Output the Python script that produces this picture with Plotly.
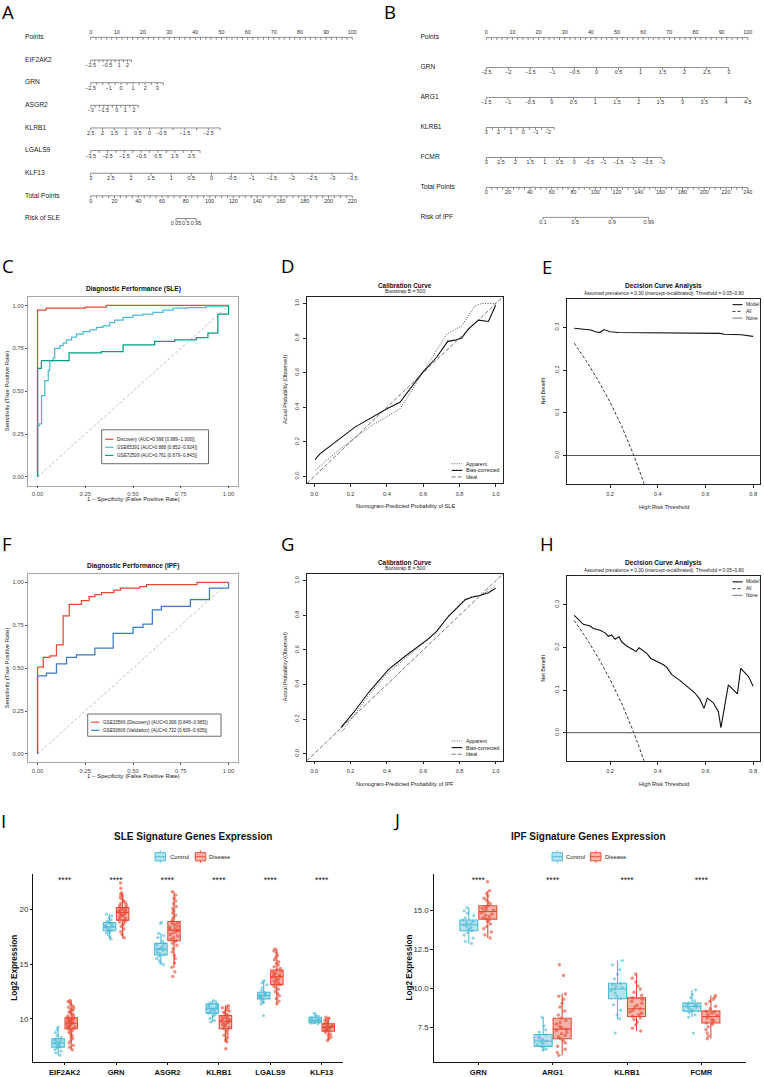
import plotly.graph_objects as go

W, H = 764, 1077
SANS = "Liberation Sans, Arial, Helvetica, sans-serif"
LETTER = "Open Sans, Liberation Sans, sans-serif"

# ======================= DATA =======================
# ---- A: SLE nomogram (scale values, labels, points reached at last value) ----
A_POINT_LABELS = ["0", "10", "20", "30", "40", "50", "60", "70", "80", "90", "100"]
A_EIF2AK2_VALUES = [-2.5, -2, -1.5, -1, -0.5, 0, 0.5, 1, 1.5, 2, 2.5]
A_EIF2AK2_LABELS = ["−2.5", "", "", "", "−0.5", "", "", "1", "", "2", ""]
A_EIF2AK2_MAXPTS = 15.6
A_GRN_VALUES = [-2.5, -2, -1.5, -1, -0.5, 0, 0.5, 1, 1.5, 2, 2.5, 3, 3.5]
A_GRN_LABELS = ["−2.5", "", "", "−1", "", "0", "", "1", "", "2", "", "3", ""]
A_GRN_MAXPTS = 27.75
A_ASGR2_VALUES = [-3, -2.5, -2, -1.5, -1, -0.5, 0, 0.5, 1, 1.5, 2, 2.5]
A_ASGR2_LABELS = ["−3", "", "", "−1.5", "", "", "0", "", "1", "", "2", ""]
A_ASGR2_MAXPTS = 18.2
A_KLRB1_VALUES = [2.5, 2, 1.5, 1, 0.5, 0, -0.5, -1, -1.5, -2, -2.5, -3]
A_KLRB1_LABELS = ["2.5", "2", "1.5", "1", "0.5", "0", "−0.5", "", "−1.5", "", "−2.5", ""]
A_KLRB1_MAXPTS = 49.5
A_LGALS9_VALUES = [-3.5, -3, -2.5, -2, -1.5, -1, -0.5, 0, 0.5, 1, 1.5, 2, 2.5, 3]
A_LGALS9_LABELS = ["−3.5", "", "−2.5", "", "−1.5", "", "−0.5", "", "0.5", "", "1.5", "", "2.5", ""]
A_LGALS9_MAXPTS = 41.8
A_KLF13_VALUES = [3, 2.5, 2, 1.5, 1, 0.5, 0, -0.5, -1, -1.5, -2, -2.5, -3, -3.5]
A_KLF13_LABELS = ["3", "2.5", "2", "1.5", "1", "0.5", "0", "−0.5", "−1", "−1.5", "−2", "−2.5", "−3", "−3.5"]
A_KLF13_MAXPTS = 100
A_TOTAL_MAX = 220
A_TOTAL_LABELS = ["0", "20", "40", "60", "80", "100", "120", "140", "160", "180", "200", "220"]
A_RISK_LABELS = ["0.05", "0.5", "0.95"]
A_RISK_TOTALPTS = [71.7, 80.0, 88.6]

# ---- B: IPF nomogram ----
B_POINT_LABELS = ["0", "10", "20", "30", "40", "50", "60", "70", "80", "90", "100"]
B_GRN_VALUES = [-2.5, -2, -1.5, -1, -0.5, 0, 0.5, 1, 1.5, 2, 2.5, 3]
B_GRN_LABELS = ["−2.5", "−2", "−1.5", "−1", "−0.5", "0", "0.5", "1", "1.5", "2", "2.5", "3"]
B_GRN_MAXPTS = 92.7
B_ARG1_VALUES = [-1.5, -1, -0.5, 0, 0.5, 1, 1.5, 2, 2.5, 3, 3.5, 4, 4.5]
B_ARG1_LABELS = ["−1.5", "−1", "−0.5", "0", "0.5", "1", "1.5", "2", "2.5", "3", "3.5", "4", "4.5"]
B_ARG1_MAXPTS = 100
B_KLRB1_VALUES = [3, 2.5, 2, 1.5, 1, 0.5, 0, -0.5, -1, -1.5, -2, -2.5]
B_KLRB1_LABELS = ["3", "", "2", "", "1", "", "0", "", "−1", "", "−2", ""]
B_KLRB1_MAXPTS = 25.9
B_FCMR_VALUES = [3, 2.5, 2, 1.5, 1, 0.5, 0, -0.5, -1, -1.5, -2, -2.5, -3]
B_FCMR_LABELS = ["3", "2.5", "2", "1.5", "1", "0.5", "0", "−0.5", "−1", "−1.5", "−2", "−2.5", "−3"]
B_FCMR_MAXPTS = 67.2
B_TOTAL_MAX = 240
B_TOTAL_LABELS = ["0", "20", "40", "60", "80", "100", "120", "140", "160", "180", "200", "220", "240"]
B_RISK_LABELS = ["0.1", "0.5", "0.9", "0.99"]
B_RISK_TOTALPTS = [52.0, 81.7, 115.4, 149.1]

# ---- C: ROC SLE (step corners) ----
C_DISC_FPR = [0, 0, 0.045, 0.25, 0.36, 1.0]
C_DISC_TPR = [0, 0.973, 0.985, 0.99, 1.0, 1.0]
C_G65_FPR = [0, 0, 0.009, 0.021, 0.038, 0.056, 0.064, 0.082, 0.09, 0.117, 0.134, 0.152, 0.178, 0.204,
             0.239, 0.274, 0.308, 0.343, 0.378, 0.404, 0.448, 0.5, 0.552, 0.605, 0.657, 0.709, 0.779, 0.883, 1.0]
C_G65_TPR = [0, 0.30, 0.31, 0.474, 0.561, 0.62, 0.678, 0.694, 0.75, 0.766, 0.78, 0.799, 0.815, 0.833,
             0.847, 0.858, 0.872, 0.881, 0.9, 0.914, 0.93, 0.943, 0.949, 0.959, 0.973, 0.984, 0.988, 0.996, 1.0]
C_G72_FPR = [0, 0, 0.02, 0.165, 0.334, 0.448, 0.613, 0.718, 0.831, 0.892, 0.944, 1.0]
C_G72_TPR = [0, 0.633, 0.678, 0.723, 0.731, 0.77, 0.79, 0.799, 0.812, 0.839, 0.949, 1.0]
C_LEGEND = ["Discovery (AUC=0.996 [0.989−1.000])", "GSE65391 (AUC=0.888 [0.852−0.924])",
            "GSE72509 (AUC=0.761 [0.679−0.843])"]

# ---- F: ROC IPF ----
F_DISC_FPR = [0, 0, 0.03, 0.065, 0.099, 0.134, 0.166, 0.23, 0.27, 0.3, 0.335, 0.4, 0.434, 0.535, 0.57, 0.835, 1.0]
F_DISC_TPR = [0, 0.506, 0.562, 0.572, 0.636, 0.805, 0.872, 0.893, 0.917, 0.928, 0.94, 0.955, 0.967, 0.975, 0.987, 1.0, 1.0]
F_VAL_FPR = [0, 0, 0.047, 0.099, 0.152, 0.204, 0.3, 0.396, 0.5, 0.552, 0.601, 0.648, 0.8, 0.9, 1.0]
F_VAL_TPR = [0, 0.455, 0.471, 0.525, 0.562, 0.578, 0.616, 0.703, 0.737, 0.756, 0.84, 0.86, 0.899, 0.966, 1.0]
F_LEGEND = ["GSE33566 (Discovery) (AUC=0.906 [0.846−0.965])", "GSE93606 (Validation) (AUC=0.722 [0.609−0.835])"]
ROC_DIAG = [0, 1]

# ---- D: calibration SLE ----
D_BIAS_X = [0.004, 0.031, 0.224, 0.408, 0.472, 0.537, 0.592, 0.674, 0.735, 0.775, 0.812, 0.848, 0.904, 0.959, 0.999]
D_BIAS_Y = [0.097, 0.131, 0.285, 0.396, 0.429, 0.516, 0.596, 0.689, 0.781, 0.788, 0.80, 0.852, 0.904, 0.896, 0.99]
D_APP_X = [0.004, 0.132, 0.316, 0.472, 0.537, 0.592, 0.665, 0.729, 0.812, 0.885, 0.922, 1.0]
D_APP_Y = [0.035, 0.15, 0.295, 0.391, 0.497, 0.59, 0.708, 0.823, 0.871, 0.986, 1.0, 1.0]
IDEAL = [-0.04, 1.04]

# ---- G: calibration IPF ----
G_BIAS_X = [0.147, 0.219, 0.298, 0.408, 0.5, 0.574, 0.628, 0.674, 0.738, 0.785, 0.83, 0.867, 0.913, 0.959, 0.999]
G_BIAS_Y = [0.151, 0.241, 0.352, 0.486, 0.563, 0.621, 0.664, 0.707, 0.793, 0.841, 0.889, 0.904, 0.914, 0.931, 0.956]
G_APP_X = [0.155, 0.219, 0.298, 0.408, 0.5, 0.574, 0.628, 0.674, 0.738, 0.785, 0.83, 0.867, 0.913, 0.959, 0.999]
G_APP_Y = [0.13, 0.225, 0.335, 0.47, 0.552, 0.615, 0.66, 0.705, 0.795, 0.845, 0.893, 0.908, 0.916, 0.942, 0.972]

# ---- E / H: decision curves ----
E_THR = [0.05, 0.09, 0.12, 0.138, 0.158, 0.174, 0.2, 0.235, 0.35, 0.5, 0.66, 0.68, 0.75, 0.8]
E_MODEL = [0.298, 0.296, 0.294, 0.290, 0.288, 0.295, 0.290, 0.288, 0.287, 0.286, 0.286, 0.284, 0.283, 0.279]
ALL_THR = [0.05, 0.1, 0.15, 0.2, 0.25, 0.3, 0.35]
ALL_NB = [0.263, 0.222, 0.176, 0.125, 0.067, 0.0, -0.077]
H_THR = [0.05, 0.06, 0.088, 0.116, 0.13, 0.158, 0.179, 0.193, 0.207, 0.221, 0.238, 0.249, 0.27, 0.298,
         0.309, 0.322, 0.34, 0.354, 0.371, 0.396, 0.424, 0.438, 0.459, 0.494, 0.521, 0.556, 0.577, 0.594,
         0.608, 0.633, 0.654, 0.665, 0.696, 0.734, 0.748, 0.78, 0.8]
H_MODEL = [0.275, 0.27, 0.254, 0.25, 0.244, 0.24, 0.234, 0.226, 0.229, 0.219, 0.225, 0.213, 0.203, 0.194,
           0.19, 0.199, 0.192, 0.186, 0.174, 0.167, 0.159, 0.153, 0.136, 0.122, 0.109, 0.093, 0.078, 0.057,
           0.081, 0.07, 0.05, 0.012, 0.112, 0.091, 0.151, 0.132, 0.109]

# ---- I: SLE expression ----
I_GENES = ["EIF2AK2", "GRN", "ASGR2", "KLRB1", "LGALS9", "KLF13"]
I_CTRL_Q1 = [7.42, 18.03, 15.82, 10.52, 11.82, 9.64]
I_CTRL_MED = [7.79, 18.39, 16.36, 10.91, 12.12, 9.85]
I_CTRL_Q3 = [8.18, 18.79, 16.88, 11.36, 12.42, 10.15]
I_CTRL_LO = [6.67, 17.27, 14.94, 9.7, 11.36, 9.55]
I_CTRL_HI = [9.24, 19.55, 17.8, 11.67, 13.48, 10.5]
I_DIS_Q1 = [9.09, 19.0, 17.12, 9.09, 13.12, 8.88]
I_DIS_MED = [9.6, 19.7, 18.09, 9.79, 13.85, 9.24]
I_DIS_Q3 = [10.09, 20.15, 18.88, 10.3, 14.45, 9.55]
I_DIS_LO = [7.18, 17.4, 14.7, 7.88, 11.36, 8.03]
I_DIS_HI = [11.67, 21.5, 21.6, 11.2, 16.36, 10.15]
I_SIG_Y = 22.58
I_CTRL_EIF2AK2 = [6.67, 6.9, 7.05, 7.2, 7.35, 7.42, 7.5, 7.6, 7.7, 7.79, 7.85, 7.95, 8.05, 8.12, 8.18, 8.3, 8.5, 8.75, 9.0, 9.24]
I_CTRL_GRN = [17.27, 17.5, 17.7, 17.85, 17.95, 18.03, 18.1, 18.2, 18.3, 18.39, 18.45, 18.55, 18.65, 18.72, 18.79, 18.9, 19.05, 19.2, 19.4, 19.55]
I_CTRL_ASGR2 = [14.94, 15.1, 15.3, 15.5, 15.7, 15.82, 15.95, 16.1, 16.25, 16.36, 16.45, 16.6, 16.75, 16.88, 17.1, 17.4, 17.6, 17.8, 18.7, 18.8]
I_CTRL_KLRB1 = [9.7, 9.85, 10.05, 10.25, 10.4, 10.52, 10.6, 10.7, 10.8, 10.91, 10.98, 11.05, 11.15, 11.25, 11.36, 11.45, 11.55, 11.67]
I_CTRL_LGALS9 = [10.3, 11.36, 11.5, 11.65, 11.82, 11.9, 12.0, 12.08, 12.12, 12.2, 12.28, 12.35, 12.42, 12.6, 12.85, 13.1, 13.3, 13.48]
I_CTRL_KLF13 = [9.55, 9.6, 9.64, 9.7, 9.75, 9.8, 9.85, 9.9, 9.95, 10.0, 10.08, 10.15, 10.25, 10.35, 10.5]
I_DIS_EIF2AK2 = [7.18, 7.4, 7.6, 7.8, 8.0, 8.2, 8.35, 8.5, 8.65, 8.8, 8.9, 9.0, 9.09, 9.15, 9.2, 9.28, 9.35, 9.42, 9.48,
                 9.55, 9.6, 9.65, 9.7, 9.76, 9.82, 9.88, 9.94, 10.0, 10.05, 10.09, 10.15, 10.25, 10.35, 10.45, 10.55,
                 10.65, 10.75, 10.85, 10.95, 11.05, 11.15, 11.3, 11.45, 11.58, 11.67]
I_DIS_GRN = [17.4, 17.7, 17.95, 18.2, 18.4, 18.55, 18.7, 18.8, 18.9, 19.0, 19.1, 19.2, 19.3, 19.38, 19.45, 19.52, 19.6,
             19.65, 19.7, 19.75, 19.8, 19.86, 19.92, 19.98, 20.05, 20.1, 20.15, 20.25, 20.35, 20.45, 20.55, 20.65,
             20.75, 20.9, 21.05, 21.2, 21.35, 21.5, 21.9, 22.4]
I_DIS_ASGR2 = [13.85, 14.3, 14.7, 15.1, 15.5, 15.8, 16.1, 16.4, 16.7, 16.9, 17.05, 17.12, 17.25, 17.4, 17.55, 17.7, 17.85,
               17.95, 18.05, 18.09, 18.15, 18.25, 18.35, 18.45, 18.55, 18.65, 18.75, 18.88, 19.05, 19.25, 19.45, 19.65,
               19.85, 20.05, 20.25, 20.5, 20.75, 21.0, 21.3, 21.6]
I_DIS_KLRB1 = [7.27, 7.88, 8.05, 8.2, 8.35, 8.5, 8.65, 8.8, 8.95, 9.09, 9.2, 9.3, 9.4, 9.5, 9.58, 9.65, 9.72, 9.79, 9.85,
               9.92, 9.98, 10.05, 10.12, 10.2, 10.3, 10.4, 10.5, 10.6, 10.7, 10.8, 10.9, 11.0, 11.1, 11.2]
I_DIS_LGALS9 = [11.36, 11.6, 11.85, 12.1, 12.3, 12.5, 12.7, 12.85, 13.0, 13.12, 13.22, 13.32, 13.42, 13.52, 13.62, 13.72,
                13.8, 13.85, 13.92, 14.0, 14.08, 14.16, 14.25, 14.35, 14.45, 14.6, 14.75, 14.9, 15.05, 15.2, 15.4, 15.6,
                15.8, 16.0, 16.2, 16.36]
I_DIS_KLF13 = [8.03, 8.2, 8.35, 8.5, 8.62, 8.75, 8.88, 8.95, 9.02, 9.08, 9.14, 9.2, 9.24, 9.3, 9.36, 9.42, 9.48, 9.55,
               9.65, 9.75, 9.85, 9.95, 10.05, 10.15]

# ---- J: IPF expression ----
J_GENES = ["GRN", "ARG1", "KLRB1", "FCMR"]
J_CTRL_Q1 = [13.68, 6.29, 9.33, 8.54]
J_CTRL_MED = [14.06, 6.63, 9.96, 8.84]
J_CTRL_Q3 = [14.36, 7.05, 10.32, 9.05]
J_CTRL_LO = [12.87, 6.04, 8.05, 8.16]
J_CTRL_HI = [15.16, 8.16, 11.77, 9.9]
J_DIS_Q1 = [14.42, 6.78, 8.2, 7.78]
J_DIS_MED = [14.91, 7.39, 8.69, 8.2]
J_DIS_Q3 = [15.27, 8.09, 9.39, 8.54]
J_DIS_LO = [13.21, 5.72, 7.27, 6.78]
J_DIS_HI = [16.23, 9.64, 10.92, 9.54]
J_SIG_Y = 16.86
J_CTRL_GRN = [12.87, 13.0, 13.2, 13.4, 13.55, 13.68, 13.78, 13.88, 13.96, 14.06, 14.12, 14.2, 14.28, 14.36, 14.5, 14.65, 14.8, 14.95, 15.16]
J_CTRL_ARG1 = [6.04, 6.1, 6.18, 6.29, 6.38, 6.47, 6.55, 6.63, 6.72, 6.82, 6.92, 7.05, 7.2, 7.35, 7.6, 8.16]
J_CTRL_KLRB1 = [7.14, 8.05, 8.3, 8.6, 8.95, 9.33, 9.5, 9.7, 9.85, 9.96, 10.05, 10.15, 10.25, 10.32, 10.6, 10.9, 11.2, 11.5, 11.77]
J_CTRL_FCMR = [7.14, 8.16, 8.3, 8.45, 8.54, 8.62, 8.7, 8.78, 8.84, 8.9, 8.96, 9.0, 9.05, 9.2, 9.4, 9.6, 9.9]
J_DIS_GRN = [13.21, 13.4, 13.6, 13.8, 13.95, 14.1, 14.25, 14.35, 14.42, 14.5, 14.58, 14.66, 14.74, 14.82, 14.91, 14.98,
             15.05, 15.12, 15.2, 15.27, 15.38, 15.5, 15.62, 15.75, 15.9, 16.05, 16.23, 16.8]
J_DIS_ARG1 = [5.72, 5.9, 6.1, 6.3, 6.5, 6.65, 6.78, 6.9, 7.0, 7.1, 7.2, 7.3, 7.39, 7.48, 7.58, 7.7, 7.82, 7.95, 8.09,
              8.3, 8.55, 8.8, 9.05, 9.3, 9.5, 9.64, 10.81, 11.51]
J_DIS_KLRB1 = [7.27, 7.45, 7.65, 7.85, 8.0, 8.1, 8.2, 8.3, 8.4, 8.5, 8.6, 8.69, 8.8, 8.92, 9.05, 9.18, 9.3, 9.39, 9.55,
               9.75, 9.95, 10.15, 10.4, 10.65, 10.92]
J_DIS_FCMR = [6.78, 6.95, 7.15, 7.35, 7.55, 7.7, 7.78, 7.86, 7.94, 8.02, 8.1, 8.2, 8.27, 8.34, 8.41, 8.48, 8.54, 8.7,
              8.85, 9.0, 9.15, 9.3, 9.42, 9.54]

RED = "#E64B35"
LBLUE = "#4DBBD5"
TEAL = "#00A087"
BLUE = "#3C7BC4"

# ======================= BUILD =======================
fig = go.Figure()
layout = {}
annotations = []
shapes = []


def fx(px):
    return px / W


def fy(py):
    return 1 - py / H


def axes(n, x0, x1, y0, y1, xrange, yrange, xextra=None, yextra=None):
    s = "" if n == 1 else str(n)
    xa = dict(domain=[fx(x0), fx(x1)], range=xrange, anchor="y" + s, showgrid=False, zeroline=False)
    ya = dict(domain=[fy(y1), fy(y0)], range=yrange, anchor="x" + s, showgrid=False, zeroline=False)
    xa.update(xextra or {})
    ya.update(yextra or {})
    layout["xaxis" + s] = xa
    layout["yaxis" + s] = ya
    return "x" + s, "y" + s


def text(x, y, s, size, color="#222", bold=False, xanchor="center", angle=0, family=SANS):
    annotations.append(dict(x=fx(x), y=fy(y), xref="paper", yref="paper",
                            text=f"<b>{s}</b>" if bold else s, showarrow=False,
                            font=dict(size=size, color=color, family=family),
                            xanchor=xanchor, yanchor="middle", textangle=angle, borderpad=0))


def seg(x0, y0, x1, y1, color, width, dash="solid"):
    shapes.append(dict(type="line", xref="paper", yref="paper", x0=fx(x0), y0=fy(y0), x1=fx(x1), y1=fy(y1),
                       line=dict(color=color, width=width, dash=dash)))


def rect(x0, y0, x1, y1, line_color, width, fill="rgba(0,0,0,0)"):
    shapes.append(dict(type="rect", xref="paper", yref="paper", x0=fx(x0), y0=fy(y0), x1=fx(x1), y1=fy(y1),
                       line=dict(color=line_color, width=width), fillcolor=fill))


# ---------------- nomograms ----------------
def scale_points(values, maxpts):
    v0, v1 = values[0], values[-1]
    return [(v - v0) / (v1 - v0) * maxpts for v in values]


def nomo_row(xr, yr, row, pts, labels, tick_len, lab_dy):
    n = len(pts)
    fig.add_trace(go.Scatter(x=pts, y=[row] * n, mode="lines", xaxis=xr, yaxis=yr,
                             line=dict(color="#444", width=0.6),
                             error_y=dict(type="data", symmetric=False, array=[tick_len] * n,
                                          arrayminus=[0] * n, width=0, thickness=0.6, color="#444"),
                             hoverinfo="skip", showlegend=False))
    lp = [p for p, l in zip(pts, labels) if l]
    lt = [l for l in labels if l]
    fig.add_trace(go.Scatter(x=lp, y=[row + lab_dy] * len(lp), mode="text", text=lt,
                             textposition="middle center", cliponaxis=False,
                             textfont=dict(size=5.4, color="#333", family=SANS),
                             xaxis=xr, yaxis=yr, hoverinfo="skip", showlegend=False))


def nomogram(n, dom, rng_x, rng_y, name_x, tick_len, lab_dy, pts_lab_dy, point_labels, var_rows,
             total_max, total_labels, risk_name, risk_labels, risk_total):
    hid = dict(visible=False)
    xr, yr = axes(n, dom[0], dom[1], dom[2], dom[3], rng_x, rng_y, hid, hid)
    names = ["Points"] + [r[0] for r in var_rows] + ["Total Points", risk_name]
    pticks = list(range(0, 101, 2))
    plabels = [point_labels[v // 10] if v % 10 == 0 else "" for v in pticks]
    nomo_row(xr, yr, 0, pticks, plabels, tick_len, pts_lab_dy)
    for i, (nm, vals, labs, mx) in enumerate(var_rows):
        nomo_row(xr, yr, i + 1, scale_points(vals, mx), labs, tick_len, lab_dy)
    trow = len(var_rows) + 1
    tvals = list(range(0, total_max + 1, 5))
    tpts = [v * 100 / total_max for v in tvals]
    tlabs = [total_labels[v // 20] if v % 20 == 0 else "" for v in tvals]
    nomo_row(xr, yr, trow, tpts, tlabs, tick_len, lab_dy)
    rpts = [v * 100 / total_max for v in risk_total]
    nomo_row(xr, yr, trow + 1, rpts, risk_labels, tick_len, lab_dy)
    fig.add_trace(go.Scatter(x=[name_x] * len(names), y=list(range(len(names))), mode="text", text=names,
                             textposition="middle right", cliponaxis=False,
                             textfont=dict(size=6.7, color="#222", family=SANS),
                             xaxis=xr, yaxis=yr, hoverinfo="skip", showlegend=False))


A_ROWS = [("EIF2AK2", A_EIF2AK2_VALUES, A_EIF2AK2_LABELS, A_EIF2AK2_MAXPTS),
          ("GRN", A_GRN_VALUES, A_GRN_LABELS, A_GRN_MAXPTS),
          ("ASGR2", A_ASGR2_VALUES, A_ASGR2_LABELS, A_ASGR2_MAXPTS),
          ("KLRB1", A_KLRB1_VALUES, A_KLRB1_LABELS, A_KLRB1_MAXPTS),
          ("LGALS9", A_LGALS9_VALUES, A_LGALS9_LABELS, A_LGALS9_MAXPTS),
          ("KLF13", A_KLF13_VALUES, A_KLF13_LABELS, A_KLF13_MAXPTS)]
nomogram(1, (15, 375, 20, 235), [-28.94, 108.68], [8.70, -0.771], -25.1, 0.11, 0.25, -0.2,
         A_POINT_LABELS, A_ROWS, A_TOTAL_MAX, A_TOTAL_LABELS, "Risk of SLE", A_RISK_LABELS, A_RISK_TOTALPTS)

B_ROWS = [("GRN", B_GRN_VALUES, B_GRN_LABELS, B_GRN_MAXPTS),
          ("ARG1", B_ARG1_VALUES, B_ARG1_LABELS, B_ARG1_MAXPTS),
          ("KLRB1", B_KLRB1_VALUES, B_KLRB1_LABELS, B_KLRB1_MAXPTS),
          ("FCMR", B_FCMR_VALUES, B_FCMR_LABELS, B_FCMR_MAXPTS)]
nomogram(2, (400, 764, 20, 235), [-33.0, 106.2], [6.566, -0.589], -25.2, 0.085, 0.185, -0.155,
         B_POINT_LABELS, B_ROWS, B_TOTAL_MAX, B_TOTAL_LABELS, "Risk of IPF", B_RISK_LABELS, B_RISK_TOTALPTS)


# ---------------- ROC panels (ggplot style) ----------------
def gg_axis(vals, txt):
    return dict(showline=True, mirror=True, linecolor="#A8A8A8", linewidth=0.9, ticks="outside", ticklen=2,
                tickwidth=0.6, tickcolor="#555", tickvals=vals, ticktext=txt,
                tickfont=dict(size=5.9, color="#4D4D4D", family=SANS))


roc_ticks = [0, 0.25, 0.5, 0.75, 1.0]
roc_text = ["0.00", "0.25", "0.50", "0.75", "1.00"]


def roc_panel(n, ytop, curves, legend_labels, title, leg_box, leg_rows):
    xr, yr = axes(n, 28, 238.1, ytop, ytop + 189.2, [-0.05, 1.05], [-0.05, 1.05],
                  gg_axis(roc_ticks, roc_text), gg_axis(roc_ticks, roc_text))
    fig.add_trace(go.Scatter(x=ROC_DIAG, y=ROC_DIAG, mode="lines", xaxis=xr, yaxis=yr,
                             line=dict(color="#9A9A9A", width=0.6, dash="3px,2px"), hoverinfo="skip"))
    for fpr, tpr, col in curves:
        fig.add_trace(go.Scatter(x=fpr, y=tpr, mode="lines", xaxis=xr, yaxis=yr,
                                 line=dict(color=col, width=1.25, shape="hv"), hoverinfo="skip"))
    cx = 133
    text(cx, ytop - 7.8, title, 6.6, "#111", bold=True)
    text(cx, ytop + 203, "1 − Specificity (False Positive Rate)", 5.9, "#222")
    text(7, ytop + 94.6, "Sensitivity (True Positive Rate)", 5.9, "#222", angle=-90)
    rect(*leg_box, "#444", 0.8, "white")
    cols = [c[2] for c in curves]
    lx0 = leg_box[0] + 3.5
    for (yy, lab, col) in zip(leg_rows, legend_labels, cols):
        seg(lx0, yy, lx0 + 8.3, yy, col, 1.2)
        text(lx0 + 10.5, yy, lab, 4.6, "#222", xanchor="left")


roc_panel(3, 297.7, [(C_DISC_FPR, C_DISC_TPR, RED), (C_G65_FPR, C_G65_TPR, LBLUE), (C_G72_FPR, C_G72_TPR, TEAL)],
          C_LEGEND, "Diagnostic Performance (SLE)", (101.7, 431, 208.5, 465), [440.5, 448.5, 456.7])
roc_panel(6, 575.4, [(F_DISC_FPR, F_DISC_TPR, RED), (F_VAL_FPR, F_VAL_TPR, BLUE)],
          F_LEGEND, "Diagnostic Performance (IPF)", (87.7, 716, 221, 738.3), [724.2, 732.3])


# ---------------- base R style panels ----------------
def r_axis(vals, txt, angle=0):
    return dict(showline=True, mirror=True, linecolor="#222", linewidth=0.8, ticks="outside", ticklen=3,
                tickwidth=0.7, tickcolor="#222", tickvals=vals, ticktext=txt, tickangle=angle,
                ticklabelstandoff=2, tickfont=dict(size=5.6, color="#333", family=SANS))


cal_ticks = [0, 0.2, 0.4, 0.6, 0.8, 1.0]
cal_text = ["0.0", "0.2", "0.4", "0.6", "0.8", "1.0"]


def legend_r(x_line0, x_line1, x_text, rows, labels, styles, size=5.2):
    for yy, lab, (col, wd, dash) in zip(rows, labels, styles):
        seg(x_line0, yy, x_line1, yy, col, wd, dash)
        text(x_text, yy, lab, size, "#222", xanchor="left")


def cal_panel(n, dy, ax_, ay_, bx_, by_, which):
    xr, yr = axes(n, 307.0, 503.1, 297.4 + dy, 484.7 + dy, [-0.04, 1.04], [-0.04, 1.04],
                  r_axis(cal_ticks, cal_text), r_axis(cal_ticks, cal_text, -90))
    fig.add_trace(go.Scatter(x=IDEAL, y=IDEAL, mode="lines", xaxis=xr, yaxis=yr,
                             line=dict(color="#555", width=0.8, dash="4px,2px"), hoverinfo="skip"))
    fig.add_trace(go.Scatter(x=ax_, y=ay_, mode="lines", xaxis=xr, yaxis=yr,
                             line=dict(color="#444", width=0.9, dash="1px,1.5px"), hoverinfo="skip"))
    fig.add_trace(go.Scatter(x=bx_, y=by_, mode="lines", xaxis=xr, yaxis=yr,
                             line=dict(color="#111", width=1.1), hoverinfo="skip"))
    text(405, 285.8 + dy, "Calibration Curve", 6.4, "#111", bold=True)
    text(405, 292.0 + dy, "Bootstrap B = 500", 5.0, "#222")
    text(405, 507.7 + dy, f"Nomogram-Predicted Probability of {which}", 5.6, "#222")
    text(285, 391 + dy, "Actual Probability (Observed)", 5.3, "#222", angle=-90)
    legend_r(451.7, 462.3, 465, [465 + dy, 471.7 + dy, 478.3 + dy], ["Apparent", "Bias-corrected", "Ideal"],
             [("#444", 0.9, "1px,1.5px"), ("#111", 1.1, "solid"), ("#555", 0.8, "4px,2px")])


cal_panel(4, 0, D_APP_X, D_APP_Y, D_BIAS_X, D_BIAS_Y, "SLE")
cal_panel(7, 278, G_APP_X, G_APP_Y, G_BIAS_X, G_BIAS_Y, "IPF")

dca_xt = [0.2, 0.4, 0.6, 0.8]
dca_xtext = ["0.2", "0.4", "0.6", "0.8"]
dca_yt = [0.0, 0.1, 0.2, 0.3]
dca_ytext = ["0.0", "0.1", "0.2", "0.3"]


def dca_panel(n, dy, thr, model):
    xr, yr = axes(n, 567.1, 760.3, 300.1 + dy, 485 + dy, [0.02, 0.83], [-0.066, 0.366],
                  r_axis(dca_xt, dca_xtext), r_axis(dca_yt, dca_ytext, -90))
    shapes.append(dict(type="line", xref=xr + " domain", yref=yr, x0=0, x1=1, y0=0, y1=0,
                       line=dict(color="#555", width=1.0)))
    fig.add_trace(go.Scatter(x=ALL_THR, y=ALL_NB, mode="lines", xaxis=xr, yaxis=yr, cliponaxis=True,
                             line=dict(color="#222", width=0.9, dash="3px,2px"), hoverinfo="skip"))
    fig.add_trace(go.Scatter(x=thr, y=model, mode="lines", xaxis=xr, yaxis=yr,
                             line=dict(color="#111", width=1.1), hoverinfo="skip"))
    text(663.7, 286.6 + dy, "Decision Curve Analysis", 6.6, "#111", bold=True)
    text(663.7, 294.0 + dy, "Assumed prevalence = 0.30 (intercept-recalibrated); Threshold = 0.05–0.80", 4.8, "#222")
    text(663.7, 508.3 + dy, "High Risk Threshold", 5.6, "#222")
    text(543, 392.5 + dy, "Net Benefit", 5.4, "#222", angle=-90)
    legend_r(732.5, 742.5, 744.5, [305.5 + dy, 312.3 + dy, 319 + dy], ["Model", "All", "None"],
             [("#111", 1.1, "solid"), ("#222", 0.9, "3px,2px"), ("#777", 1.0, "solid")], size=4.9)


dca_panel(5, 0, E_THR, E_MODEL)
dca_panel(8, 278, H_THR, H_MODEL)


# ---------------- expression box plots ----------------
def classic_axis(extra):
    d = dict(showline=True, linecolor="#111", linewidth=0.9, ticks="outside", ticklen=2.5, tickwidth=0.8,
             tickcolor="#111")
    d.update(extra)
    return d


def expr_panel(n, x0, x1, genes, xrange, yrange, ytv, ytt, ctrl_stats, dis_stats, ctrl_pts, dis_pts, sig_y,
               title, title_x, ytitle_x, leg):
    xr, yr = axes(n, x0, x1, 876, 1065, xrange, yrange,
                  classic_axis(dict(type="category", categoryorder="array", categoryarray=genes,
                                    tickfont=dict(size=7.6, color="#111", family=SANS, weight="bold"))),
                  classic_axis(dict(tickvals=ytv, ticktext=ytt,
                                    tickfont=dict(size=7.8, color="#333", family=SANS))))
    grp = "g" + str(n)
    for stats, col, fill, og, nm in [(ctrl_stats, LBLUE, "rgba(77,187,213,0.42)", "c", "Control"),
                                     (dis_stats, RED, "rgba(230,75,53,0.42)", "d", "Disease")]:
        q1, med, q3, lo, hi = stats
        fig.add_trace(go.Box(x=genes, q1=q1, median=med, q3=q3, lowerfence=lo, upperfence=hi, name=nm,
                             boxpoints=False, whiskerwidth=0, fillcolor=fill, line=dict(color=col, width=1.1),
                             offsetgroup=og, alignmentgroup=grp, xaxis=xr, yaxis=yr, hoverinfo="skip"))
    for pts, col, og, nm, sz in [(ctrl_pts, LBLUE, "c", "Control", 3.2), (dis_pts, RED, "d", "Disease", 3.5)]:
        xs, ys = [], []
        for g, v in zip(genes, pts):
            xs += [g] * len(v)
            ys += v
        fig.add_trace(go.Box(x=xs, y=ys, name=nm, boxpoints="all", jitter=0.75, pointpos=0, whiskerwidth=0,
                             fillcolor="rgba(0,0,0,0)", line=dict(color="rgba(0,0,0,0)", width=0),
                             marker=dict(color=col, size=sz, opacity=0.62, line=dict(width=0)),
                             offsetgroup=og, alignmentgroup=grp, xaxis=xr, yaxis=yr, hoverinfo="skip"))
    fig.add_trace(go.Scatter(x=genes, y=[sig_y] * len(genes), mode="text", text=["****"] * len(genes),
                             textfont=dict(size=8.5, color="#222", family=SANS), xaxis=xr, yaxis=yr,
                             hoverinfo="skip"))
    text(title_x, 839.2, title, 10, "#111", bold=True)
    text(ytitle_x, 970.5, "Log2 Expression", 8.2, "#111", bold=True, angle=-90)
    for (ix0, tx, lab, col, fill) in [(leg[0], leg[1], "Control", LBLUE, "rgba(77,187,213,0.42)"),
                                      (leg[2], leg[3], "Disease", RED, "rgba(230,75,53,0.42)")]:
        rect(ix0, 855, ix0 + 10.5, 863.3, col, 0.9, fill)
        seg(ix0, 859.1, ix0 + 10.5, 859.1, col, 0.9)
        seg(ix0 + 5.25, 852.8, ix0 + 5.25, 855, col, 0.9)
        seg(ix0 + 5.25, 863.3, ix0 + 5.25, 865.5, col, 0.9)
        text(tx, 859.1, lab, 5.9, "#222", xanchor="left")


expr_panel(9, 33.3, 343.3, I_GENES, [-0.61, 5.42], [6.06, 23.25], [10, 15, 20], ["10", "15", "20"],
           (I_CTRL_Q1, I_CTRL_MED, I_CTRL_Q3, I_CTRL_LO, I_CTRL_HI),
           (I_DIS_Q1, I_DIS_MED, I_DIS_Q3, I_DIS_LO, I_DIS_HI),
           [I_CTRL_EIF2AK2, I_CTRL_GRN, I_CTRL_ASGR2, I_CTRL_KLRB1, I_CTRL_LGALS9, I_CTRL_KLF13],
           [I_DIS_EIF2AK2, I_DIS_GRN, I_DIS_ASGR2, I_DIS_KLRB1, I_DIS_LGALS9, I_DIS_KLF13],
           I_SIG_Y, "SLE Signature Genes Expression", 193, 15, (155, 168.8, 195.3, 208.3))
expr_panel(10, 433.7, 746, J_GENES, [-0.6, 3.6], [5.29, 17.33], [7.5, 10, 12.5, 15],
           ["7.5", "10.0", "12.5", "15.0"],
           (J_CTRL_Q1, J_CTRL_MED, J_CTRL_Q3, J_CTRL_LO, J_CTRL_HI),
           (J_DIS_Q1, J_DIS_MED, J_DIS_Q3, J_DIS_LO, J_DIS_HI),
           [J_CTRL_GRN, J_CTRL_ARG1, J_CTRL_KLRB1, J_CTRL_FCMR],
           [J_DIS_GRN, J_DIS_ARG1, J_DIS_KLRB1, J_DIS_FCMR],
           J_SIG_Y, "IPF Signature Genes Expression", 588.7, 409.7, (552, 565.3, 590.5, 603.8))

# ---------------- panel letters ----------------
for lab, x, y in [("A", 8.3, 11.7), ("B", 390, 11.7), ("C", 7.5, 266.7), ("D", 287.5, 266.5),
                  ("E", 546.7, 267.3), ("F", 6.7, 545.3), ("G", 287, 545), ("H", 546.7, 545),
                  ("I", 3.3, 822.5), ("J", 396, 822)]:
    text(x, y, lab, 18.5, "#000", family=LETTER)

fig.update_layout(width=W, height=H, margin=dict(l=0, r=0, t=0, b=0), paper_bgcolor="white",
                  plot_bgcolor="white", showlegend=False, boxmode="group", boxgap=0.49, boxgroupgap=0.05,
                  annotations=annotations, shapes=shapes, font=dict(family=SANS), **layout)
fig.write_html("out.html")
